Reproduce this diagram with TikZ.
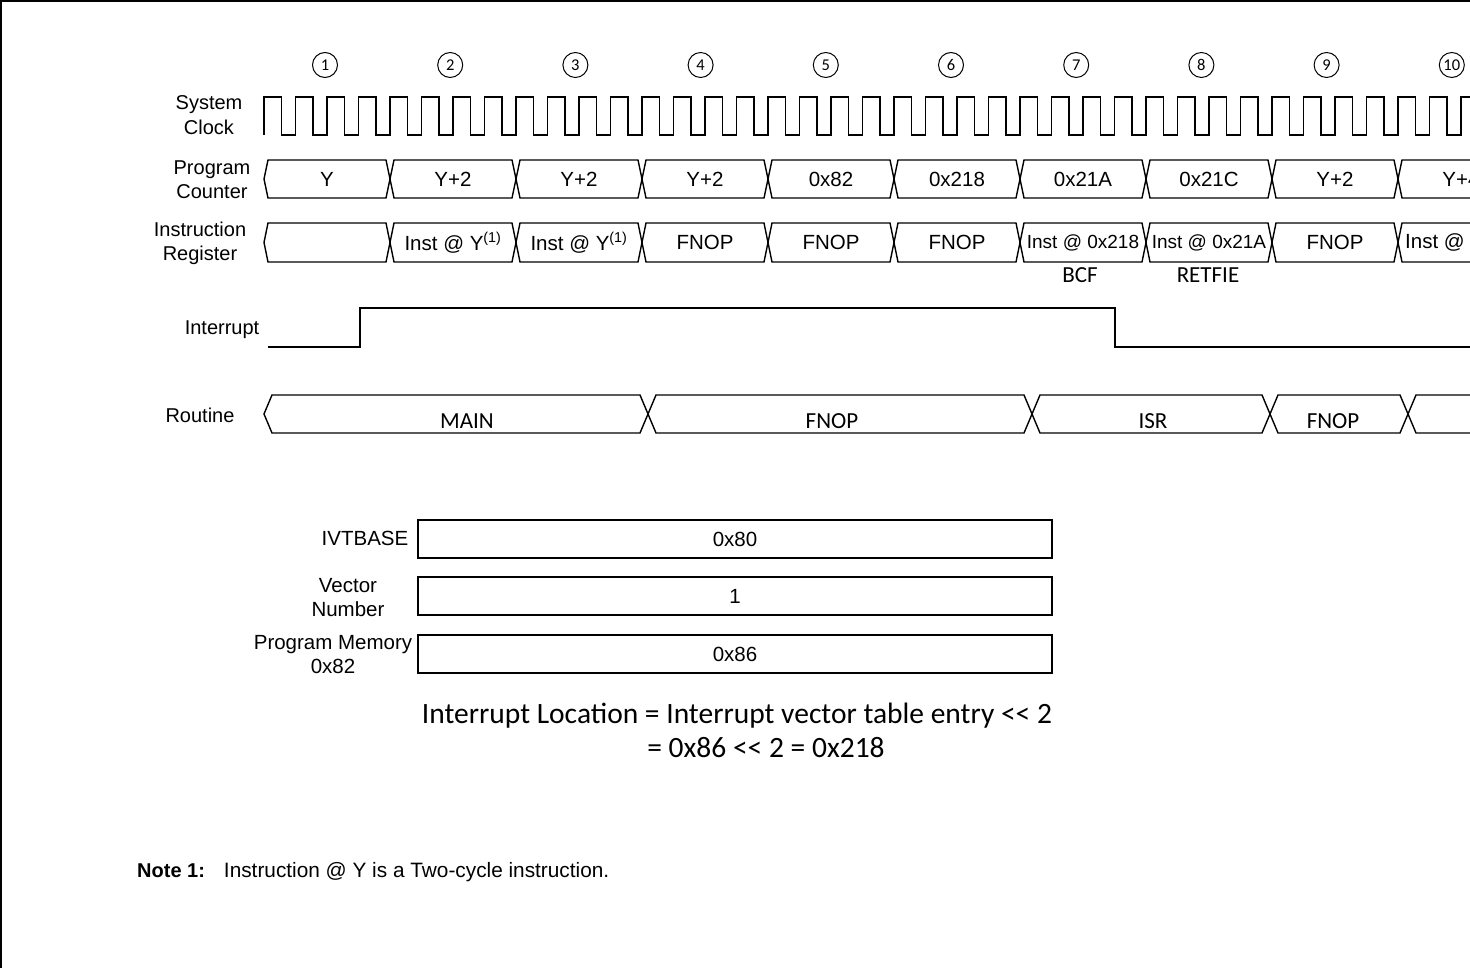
\documentclass[tikz,border=0pt]{standalone}
\usepackage{fontspec}
\setmainfont{Liberation Sans}
\newfontfamily\calfont{Carlito}

\tikzset{
  sig/.style={line width=1.4pt},
  lbl/.style={align=center, inner sep=0pt, font=\fontsize{20}{24.5}\selectfont},
  val/.style={inner sep=0pt, font=\fontsize{20.5}{24}\selectfont},
  cyc/.style={draw, circle, line width=1pt, minimum size=25pt, inner sep=0pt, font=\calfont\fontsize{16.5}{17}\selectfont},
  rout/.style={inner sep=0pt, font=\calfont\fontsize{23}{26}\selectfont},
  regbox/.style={draw, rectangle, line width=1.4pt, minimum width=634pt, minimum height=38pt, font=\fontsize{20.5}{24}\selectfont},
}

\begin{document}
\begin{tikzpicture}[x=1pt, y=-1pt]

\useasboundingbox (0,0) rectangle (1470,968);
\clip (0,0) rectangle (1470,968);
\fill[white] (0,0) rectangle (1470,968);
\draw[line width=2.5pt] (1480,1) -- (1,1) -- (1,980);

\node[lbl] (clklbl) at (209,115) {System\\Clock};
\node[lbl] (pclbl) at (212,179.5) {Program\\Counter};
\node[lbl] (irlbl) at (200,243.5) {Instruction\\Register};
\node[lbl] (intlbl) at (222,330) {Interrupt};
\node[lbl] (rtlbl) at (200,415) {Routine};

\foreach \k in {1,...,10}
  \node[cyc] (c\k) at (325+125.2*\k-125.2,65) {\k};

\draw[sig] (264,135) \foreach \i in {0,...,38} { -- ++(0,-38) -- ++(17.5,0) -- ++(0,38) -- ++(14,0) };

\foreach \k/\pcv/\irv in {1/Y/{}, 2/Y+2/{Inst @ Y\textsuperscript{(1)}}, 3/Y+2/{Inst @ Y\textsuperscript{(1)}},
    4/Y+2/FNOP, 5/0x82/FNOP, 6/0x218/FNOP, 7/0x21A/{\fontsize{19}{22}\selectfont Inst @ 0x218},
    8/0x21C/{\fontsize{19}{22}\selectfont Inst @ 0x21A}, 9/Y+2/FNOP, 10/Y+4/{}} {
  \pgfmathsetmacro\bl{264+126*(\k-1)}
  \pgfmathsetmacro\br{264+126*\k}
  \draw[sig] (\bl,179) -- (\bl+4,160) -- (\br-4,160) -- (\br,179) -- (\br-4,198) -- (\bl+4,198) -- cycle;
  \draw[sig] (\bl,242.5) -- (\bl+4,223) -- (\br-4,223) -- (\br,242.5) -- (\br-4,262) -- (\bl+4,262) -- cycle;
  \node[val] (pc\k) at (\bl+63,179.5) {\pcv};
  \node[val] (ir\k) at (\bl+63,242.5) {\irv};
}
\node[val, anchor=west] (ir10b) at (1405,242.5) {Inst @};

\node[rout] (bcf) at (1080,275) {BCF};
\node[rout] (retfie) at (1208,275) {RETFIE};

\draw[sig] (268,347) -- (360,347) -- (360,308) -- (1115,308) -- (1115,347) -- (1480,347);

\foreach \a/\b in {264/648, 648/1032, 1032/1270, 1270/1408, 1408/1600}
  \draw[sig] (\a,414) -- (\a+8,395) -- (\b-8,395) -- (\b,414) -- (\b-8,433) -- (\a+8,433) -- cycle;

\node[rout] (main) at (467,421) {MAIN};
\node[rout] (fnop1) at (832,421) {FNOP};
\node[rout] (isr) at (1153,421) {ISR};
\node[rout] (fnop2) at (1333,421) {FNOP};

\node[regbox] (ivt) at (735,539) {0x80};
\node[regbox] (vec) at (735,596) {1};
\node[regbox] (pmem) at (735,654) {0x86};

\node[lbl, font=\fontsize{20.5}{24}\selectfont] (ivtlbl) at (365,538) {IVTBASE};
\node[lbl, font=\fontsize{20.5}{24}\selectfont] (veclbl) at (348,598) {Vector\\Number};
\node[lbl, font=\fontsize{20.5}{24}\selectfont] (pmemlbl) at (333,655) {Program Memory\\0x82};

\node[font=\calfont\fontsize{29.5}{33}\selectfont] (loc) at (737,716) {Interrupt Location = Interrupt vector table entry <{}< 2};
\node[font=\calfont\fontsize{29.5}{33}\selectfont] (loc2) at (766,748) {= 0x86 <{}< 2 = 0x218};

\node[anchor=west, inner sep=0pt, font=\fontsize{20}{22}\selectfont] (note) at (137,872) {\textbf{Note 1:}\hspace{19pt}{\fontsize{20.8}{22}\selectfont Instruction @ Y is a Two-cycle instruction.}};

\end{tikzpicture}
\end{document}
